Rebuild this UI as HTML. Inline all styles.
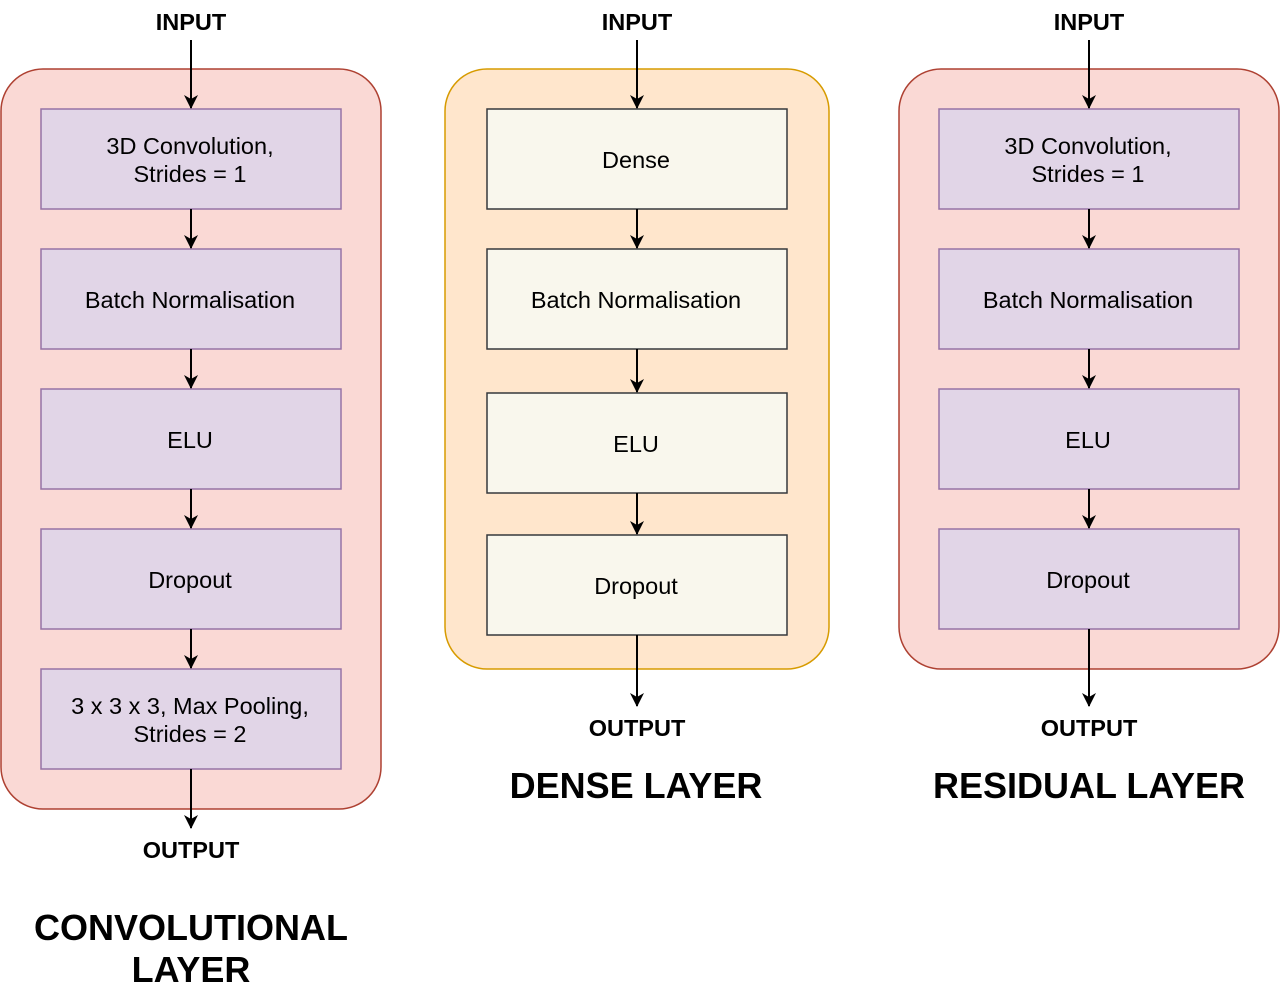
<!DOCTYPE html>
<html><head><meta charset="utf-8"><style>
html,body{margin:0;padding:0;background:#fff;}
svg{display:block;}
text{font-family:"Liberation Sans",sans-serif;}
</style></head><body>
<svg width="1280" height="992" viewBox="0 0 1280 992" xmlns="http://www.w3.org/2000/svg">
<defs>
<marker id="a" markerWidth="16" markerHeight="16" refX="13" refY="7" orient="auto" markerUnits="userSpaceOnUse">
<path d="M0,0 L14,7 L0,14 L4,7 Z" fill="#000"/>
</marker>
</defs>
<rect x="1" y="69" width="380" height="740" rx="42" fill="#fad9d5" stroke="#ae4132" stroke-width="1.5"/>
<rect x="445" y="69" width="384" height="600" rx="42" fill="#ffe6cc" stroke="#d79b00" stroke-width="1.5"/>
<rect x="899" y="69" width="380" height="600" rx="42" fill="#fad9d5" stroke="#ae4132" stroke-width="1.5"/>

<g fill="#e1d5e7" stroke="#9673a6" stroke-width="1.5">
<rect x="41" y="109" width="300" height="100"/>
<rect x="41" y="249" width="300" height="100"/>
<rect x="41" y="389" width="300" height="100"/>
<rect x="41" y="529" width="300" height="100"/>
<rect x="41" y="669" width="300" height="100"/>
<rect x="939" y="109" width="300" height="100"/>
<rect x="939" y="249" width="300" height="100"/>
<rect x="939" y="389" width="300" height="100"/>
<rect x="939" y="529" width="300" height="100"/>
</g>
<g fill="#f9f7ed" stroke="#36393d" stroke-width="1.5">
<rect x="487" y="109" width="300" height="100"/>
<rect x="487" y="249" width="300" height="100"/>
<rect x="487" y="393" width="300" height="100"/>
<rect x="487" y="535" width="300" height="100"/>
</g>

<g stroke="#000" stroke-width="2" marker-end="url(#a)">
<line x1="191" y1="40" x2="191" y2="108"/>
<line x1="191" y1="209" x2="191" y2="248"/>
<line x1="191" y1="349" x2="191" y2="388"/>
<line x1="191" y1="489" x2="191" y2="528"/>
<line x1="191" y1="629" x2="191" y2="668"/>
<line x1="191" y1="769" x2="191" y2="828"/>
<line x1="637" y1="40" x2="637" y2="108"/>
<line x1="637" y1="209" x2="637" y2="248"/>
<line x1="637" y1="349" x2="637" y2="392"/>
<line x1="637" y1="493" x2="637" y2="534"/>
<line x1="637" y1="635" x2="637" y2="706"/>
<line x1="1089" y1="40" x2="1089" y2="108"/>
<line x1="1089" y1="209" x2="1089" y2="248"/>
<line x1="1089" y1="349" x2="1089" y2="388"/>
<line x1="1089" y1="489" x2="1089" y2="528"/>
<line x1="1089" y1="629" x2="1089" y2="706"/>
</g>

<g font-size="23.5" font-weight="bold" text-anchor="middle" fill="#000">
<text x="191" y="30">INPUT</text>
<text x="637" y="30">INPUT</text>
<text x="1089" y="30">INPUT</text>
<text x="191" y="858">OUTPUT</text>
<text x="637" y="736">OUTPUT</text>
<text x="1089" y="736">OUTPUT</text>
</g>
<g font-size="36" font-weight="bold" text-anchor="middle" fill="#000">
<text x="636" y="798">DENSE LAYER</text>
<text x="1089" y="798">RESIDUAL LAYER</text>
<text x="191" y="940">CONVOLUTIONAL</text>
<text x="191" y="982">LAYER</text>
</g>
<g font-size="23.5" text-anchor="middle" fill="#000">
<text x="190" y="154">3D Convolution,</text>
<text x="190" y="182">Strides = 1</text>
<text x="190" y="308">Batch Normalisation</text>
<text x="190" y="448">ELU</text>
<text x="190" y="588">Dropout</text>
<text x="190" y="714">3 x 3 x 3, Max Pooling,</text>
<text x="190" y="742">Strides = 2</text>
<text x="636" y="168">Dense</text>
<text x="636" y="308">Batch Normalisation</text>
<text x="636" y="452">ELU</text>
<text x="636" y="594">Dropout</text>
<text x="1088" y="154">3D Convolution,</text>
<text x="1088" y="182">Strides = 1</text>
<text x="1088" y="308">Batch Normalisation</text>
<text x="1088" y="448">ELU</text>
<text x="1088" y="588">Dropout</text>
</g>
</svg>
</body></html>
